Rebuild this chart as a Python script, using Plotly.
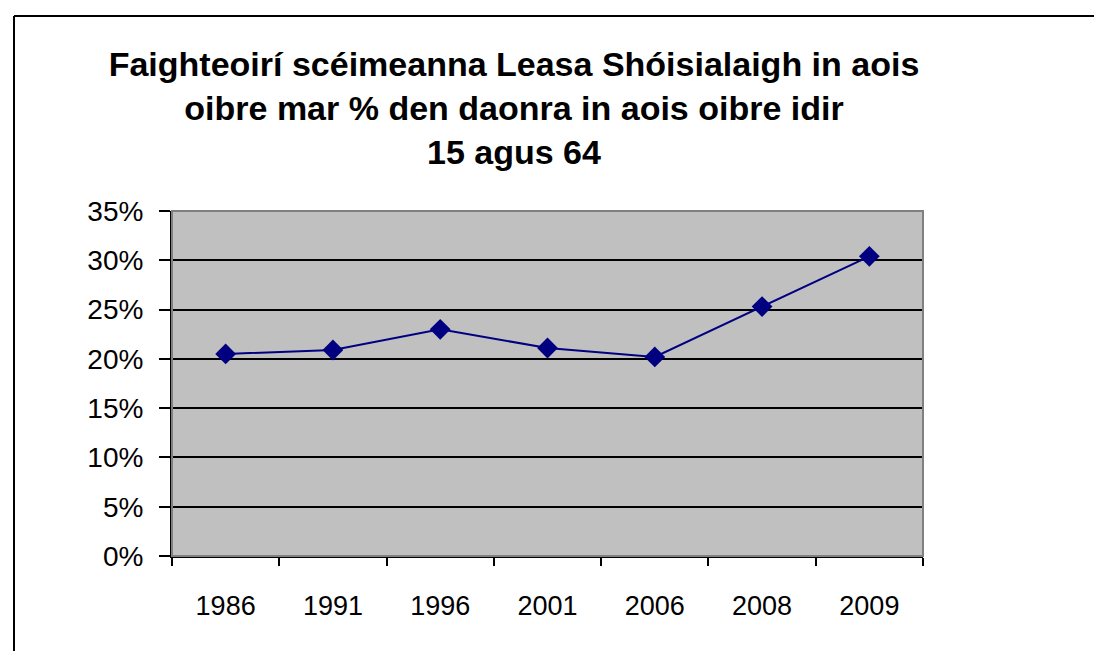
import plotly.graph_objects as go

years = ["1986", "1991", "1996", "2001", "2006", "2008", "2009"]
share = [0.205, 0.209, 0.230, 0.211, 0.202, 0.253, 0.304]
y_ticks = [0, 0.05, 0.10, 0.15, 0.20, 0.25, 0.30, 0.35]
y_tick_labels = ["0%", "5%", "10%", "15%", "20%", "25%", "30%", "35%"]
title_text = "Faighteoirí scéimeanna Leasa Shóisialaigh in aois<br>oibre mar % den daonra in aois oibre idir<br>15 agus 64"

# page body has an 8px margin; figure coordinates are screen - 8
W, H = 1094, 643
L, R, T, B = 164, 915, 203, 548

def px_x(px):
    return (px - L) / (R - L)

def px_y(py):
    return (B - py) / (B - T)

fig = go.Figure()
fig.add_trace(go.Scatter(
    x=years, y=share, mode="lines+markers",
    line=dict(color="#000080", width=2),
    marker=dict(symbol="diamond", size=16, color="#000080"),
    showlegend=False,
))

fig.update_layout(
    width=W, height=H,
    margin=dict(l=L, r=W - R, t=T, b=H - B, pad=0),
    paper_bgcolor="white",
    plot_bgcolor="#C0C0C0",
    font=dict(family="Liberation Sans, Arial, sans-serif", color="black"),
    title=dict(
        text=title_text,
        x=506 / W, xanchor="center", xref="container",
        y=1 - 68 / H, yanchor="top",
        font=dict(size=34, family="Liberation Sans, Arial, sans-serif", color="black", weight="bold"),
    ),
    shapes=[
        dict(type="rect", xref="paper", yref="paper", x0=0, x1=1, y0=0, y1=1,
             line=dict(color="#808080", width=2), layer="above"),
        dict(type="line", xref="paper", yref="paper", x0=px_x(6), x1=px_x(1120), y0=px_y(8), y1=px_y(8),
             line=dict(color="black", width=2)),
        dict(type="line", xref="paper", yref="paper", x0=px_x(6), x1=px_x(6), y0=px_y(8), y1=px_y(670),
             line=dict(color="black", width=2)),
    ],
)

fig.update_xaxes(
    type="category", range=[-0.5, 6.5],
    tickson="boundaries", ticks="outside", ticklen=8, tickwidth=2, tickcolor="black",
    showline=True, linecolor="black", linewidth=2,
    showgrid=False, zeroline=False,
    tickfont=dict(size=27), ticklabelstandoff=25,
)
fig.update_yaxes(
    range=[0, 0.35], tickvals=y_ticks, ticktext=y_tick_labels,
    ticks="outside", ticklen=11, tickwidth=2, tickcolor="black",
    showline=True, linecolor="black", linewidth=2,
    showgrid=True, gridcolor="black", gridwidth=2,
    zeroline=False,
    tickfont=dict(size=28), ticklabelstandoff=10,
)

fig.write_html("out.html")
